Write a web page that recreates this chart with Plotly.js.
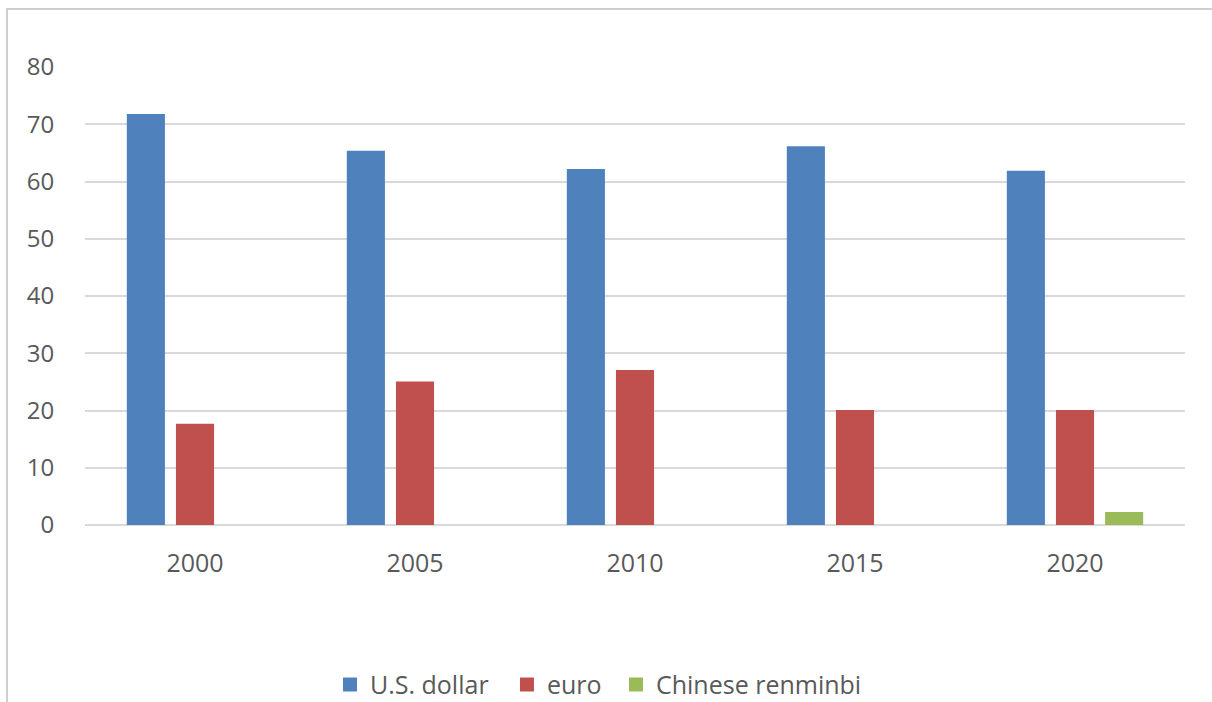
<!DOCTYPE html>
<html>
<head>
<meta charset="utf-8">
<script src="https://cdn.plot.ly/plotly-3.0.1.min.js"></script>
<style>
  html, body { margin: 0; padding: 0; background: #fff; overflow: hidden; }
  #chart { width: 1212px; height: 702px; position: absolute; left: 0; top: 0; }
  #frame { position: absolute; left: 6px; top: 8px; width: 1300px; height: 800px;
           border-left: 2px solid #cfcfcf; border-top: 2px solid #cfcfcf; pointer-events: none; }
</style>
</head>
<body>
<div id="chart"></div>
<div id="frame"></div>
<script>
const years = ['2000', '2005', '2010', '2015', '2020'];
const usDollar = [71.6, 65.2, 62.0, 66.0, 61.7];
const euro = [17.5, 24.9, 26.9, 19.9, 19.9];
const renminbi = [null, null, null, null, 2.1];
const seriesNames = ['U.S. dollar', 'euro', 'Chinese renminbi'];
const yTicks = [0, 10, 20, 30, 40, 50, 60, 70, 80];

const colors = ['#4F81BD', '#C0504D', '#9BBB59'];
const legendIds = ['legend', 'legend2', 'legend3'];
const legendX = [0.2227, 0.3836, 0.4827];
const baseFont = { family: 'Open Sans, sans-serif', color: '#595959' };

const traces = [usDollar, euro, renminbi].map((vals, i) => ({
  type: 'bar',
  name: seriesNames[i],
  x: years,
  y: vals,
  legend: legendIds[i],
  marker: { color: colors[i], line: { color: colors[i], width: 2 } },
  hoverinfo: 'x+y+name'
}));

function legendCfg(x) {
  return {
    orientation: 'h',
    x: x, xanchor: 'left',
    y: -0.349, yanchor: 'middle',
    font: Object.assign({ size: 25 }, baseFont),
    bgcolor: 'rgba(0,0,0,0)'
  };
}

const layout = {
  width: 1212,
  height: 702,
  paper_bgcolor: '#ffffff',
  plot_bgcolor: '#ffffff',
  margin: { l: 85, r: 27, t: 67, b: 177, autoexpand: false },
  font: Object.assign({ size: 24 }, baseFont),
  barmode: 'group',
  bargap: 0.33,
  bargroupgap: 0.265,
  showlegend: true,
  legend: legendCfg(legendX[0]),
  legend2: legendCfg(legendX[1]),
  legend3: legendCfg(legendX[2]),
  xaxis: {
    type: 'category',
    showgrid: false,
    showline: false,
    zeroline: false,
    ticks: 'outside', ticklen: 16, tickcolor: 'rgba(0,0,0,0)',
    tickfont: Object.assign({ size: 25 }, baseFont)
  },
  yaxis: {
    range: [0, 80],
    tickvals: yTicks,
    ticktext: yTicks.map(String),
    showgrid: true,
    gridcolor: '#d9d9d9',
    gridwidth: 2,
    zeroline: true,
    zerolinecolor: '#d9d9d9',
    zerolinewidth: 2,
    showline: false,
    ticks: 'outside', ticklen: 25, tickcolor: 'rgba(0,0,0,0)',
    tickfont: Object.assign({ size: 24 }, baseFont)
  }
};

Plotly.newPlot('chart', traces, layout, { displayModeBar: false, staticPlot: true });
</script>
</body>
</html>
